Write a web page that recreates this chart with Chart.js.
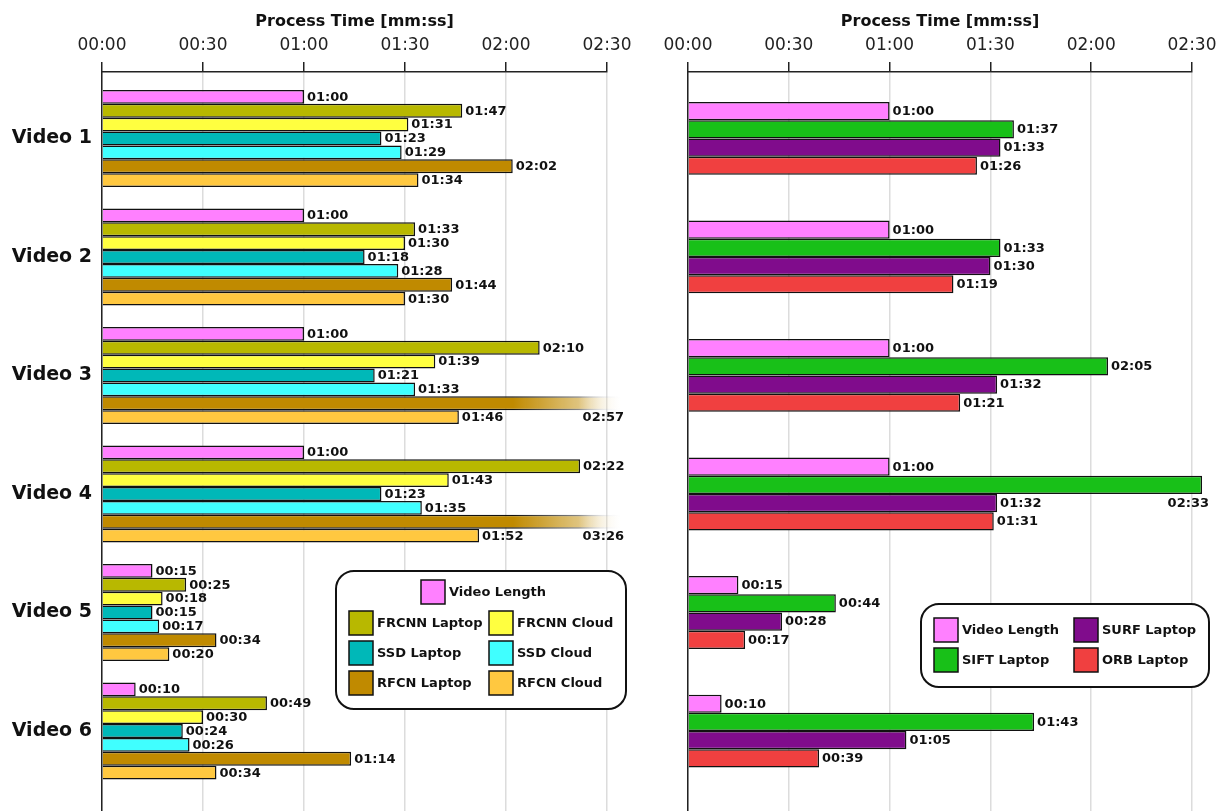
<!DOCTYPE html>
<html lang="en">
<head>
<meta charset="UTF-8">
<title>Process Time per Video</title>
<script src="https://cdn.jsdelivr.net/npm/chart.js"></script>
<style>
  body { margin: 0; background: #fff; }
  #wrap { position: relative; width: 1217px; height: 811px; }
  canvas { position: absolute; top: 0; }
</style>
</head>
<body>
<div id="wrap">
  <canvas id="detChart" width="640" height="811" style="left:0"></canvas>
  <canvas id="featChart" width="577" height="811" style="left:640px"></canvas>
</div>
<script>
const videos = ['Video 1', 'Video 2', 'Video 3', 'Video 4', 'Video 5', 'Video 6'];
const timeTicks = [0, 30, 60, 90, 120, 150];

// process times in seconds
const videoLength = [60, 60, 60, 60, 15, 10];
const frcnnLaptop = [107, 93, 130, 142, 25, 49];
const frcnnCloud = [91, 90, 99, 103, 18, 30];
const ssdLaptop = [83, 78, 81, 83, 15, 24];
const ssdCloud = [89, 88, 93, 95, 17, 26];
const rfcnLaptop = [122, 104, 177, 206, 34, 74];
const rfcnCloud = [94, 90, 106, 112, 20, 34];

const siftLaptop = [97, 93, 125, 153, 44, 103];
const surfLaptop = [93, 90, 92, 92, 28, 65];
const orbLaptop = [86, 79, 81, 91, 17, 39];

Chart.defaults.font.family = "'DejaVu Sans', sans-serif";

function mmss(s) {
  return String(Math.floor(s / 60)).padStart(2, '0') + ':' + String(s % 60).padStart(2, '0');
}

// bars that run far past the axis fade out (broken bar)
function fadeFor(ctx, color) {
  const chart = ctx.chart, x = chart.scales.x;
  if (ctx.type !== 'data' || !chart.chartArea || !x || ctx.raw.x <= x.max + 5) return color;
  const g = chart.ctx.createLinearGradient(x.getPixelForValue(122), 0, chart.chartArea.right + 16, 0);
  g.addColorStop(0, color);
  g.addColorStop(0.6, Chart.helpers.color(color).alpha(0.5).rgbString());
  g.addColorStop(1, 'rgba(255,255,255,0)');
  return g;
}

const valueLabels = {
  id: 'valueLabels',
  afterDatasetsDraw(chart) {
    const { ctx, chartArea } = chart;
    const xMax = chart.scales.x.max;
    ctx.save();
    ctx.font = 'bold 13px "DejaVu Sans"';
    ctx.fillStyle = '#111';
    ctx.textBaseline = 'middle';
    chart.data.datasets.forEach((ds, di) => {
      chart.getDatasetMeta(di).data.forEach((bar, i) => {
        const v = ds.data[i].x;
        if (v > xMax) {
          ctx.textAlign = 'right';
          ctx.fillText(mmss(v), chartArea.right + 17, bar.y + bar.height + 0.5);
        } else {
          ctx.textAlign = 'left';
          ctx.fillText(mmss(v), bar.x + 3, bar.y + 0.5);
        }
      });
    });
    ctx.restore();
  }
};

const barLegend = {
  id: 'barLegend',
  afterDraw(chart, args, opts) {
    const { ctx } = chart;
    const b = opts.box;
    ctx.save();
    ctx.beginPath();
    ctx.roundRect(b.left, b.top, b.width, b.height, 18);
    ctx.fillStyle = '#fff';
    ctx.fill();
    ctx.lineWidth = 2;
    ctx.strokeStyle = '#111';
    ctx.stroke();
    ctx.font = 'bold 13px "DejaVu Sans"';
    ctx.textBaseline = 'middle';
    ctx.textAlign = 'left';
    opts.items.forEach(([di, x, y]) => {
      const ds = chart.data.datasets[di];
      ctx.fillStyle = ds.swatch;
      ctx.fillRect(x, y - 12, 24, 24);
      ctx.lineWidth = 1.5;
      ctx.strokeRect(x, y - 12, 24, 24);
      ctx.fillStyle = '#111';
      ctx.fillText(ds.label, x + 28, y + 0.5);
    });
    ctx.restore();
  }
};

function makeChart(id, series, catPct, yWidth, padRight, showNames, legend) {
  return new Chart(document.getElementById(id), {
    type: 'bar',
    data: {
      datasets: series.map(s => ({
        label: s.label,
        swatch: s.color,
        data: s.data.map((v, i) => ({ x: v, y: i })),
        backgroundColor: ctx => fadeFor(ctx, s.color),
        borderColor: ctx => fadeFor(ctx, '#111'),
        borderWidth: 1.5,
        clip: false,
        categoryPercentage: catPct,
        barPercentage: 1
      }))
    },
    options: {
      indexAxis: 'y',
      responsive: false,
      animation: false,
      layout: { padding: { left: 0, right: padRight, top: 0, bottom: 0 } },
      plugins: {
        legend: { display: false },
        tooltip: { enabled: false },
        barLegend: legend
      },
      scales: {
        x: {
          type: 'linear',
          position: 'top',
          min: 0,
          max: 150,
          afterBuildTicks: s => { s.ticks = timeTicks.map(v => ({ value: v })); },
          afterFit: s => { s.height = 72; s.paddingLeft = 0; s.paddingRight = 0; },
          ticks: { callback: v => mmss(v), font: { size: 17 }, color: '#222', padding: 6, maxRotation: 0 },
          grid: { color: '#dcdcdc', lineWidth: 1.5, tickColor: '#222', tickWidth: 1.5, tickLength: 10 },
          border: { color: '#222', width: 1.5 },
          title: {
            display: true,
            text: 'Process Time [mm:ss]',
            font: { size: 16, weight: 'bold' },
            color: '#111',
            padding: { top: 12, bottom: 0 }
          }
        },
        y: {
          type: 'linear',
          reverse: true,
          offset: false,
          min: -0.561,
          max: 5.675,
          afterBuildTicks: s => { s.ticks = videos.map((v, i) => ({ value: i })); },
          afterFit: s => { s.width = yWidth; s.paddingTop = 0; s.paddingBottom = 0; },
          ticks: { display: showNames, callback: v => videos[v], font: { size: 19, weight: 'bold' }, color: '#111', padding: 10 },
          grid: { display: false, drawTicks: false },
          border: { color: '#222', width: 1.5 }
        }
      }
    },
    plugins: [valueLabels, barLegend]
  });
}

// Object detection methods
makeChart('detChart', [
  { label: 'Video Length', data: videoLength, color: '#ff80ff' },
  { label: 'FRCNN Laptop', data: frcnnLaptop, color: '#b8b800' },
  { label: 'FRCNN Cloud', data: frcnnCloud, color: '#ffff40' },
  { label: 'SSD Laptop', data: ssdLaptop, color: '#00b8b8' },
  { label: 'SSD Cloud', data: ssdCloud, color: '#40ffff' },
  { label: 'RFCN Laptop', data: rfcnLaptop, color: '#c08a00' },
  { label: 'RFCN Cloud', data: rfcnCloud, color: '#ffc840' }
], 0.82, 102, 33, true, {
  box: { left: 336, top: 571, width: 290, height: 138 },
  items: [[0, 421, 592], [1, 349, 623], [2, 489, 623], [3, 349, 653], [4, 489, 653], [5, 349, 683], [6, 489, 683]]
});

// Feature matching methods
makeChart('featChart', [
  { label: 'Video Length', data: videoLength, color: '#ff80ff' },
  { label: 'SIFT Laptop', data: siftLaptop, color: '#18c018' },
  { label: 'SURF Laptop', data: surfLaptop, color: '#800c8c' },
  { label: 'ORB Laptop', data: orbLaptop, color: '#f04040' }
], 0.614, 48, 25, false, {
  box: { left: 281, top: 604, width: 288, height: 83 },
  items: [[0, 294, 630], [1, 294, 660], [2, 434, 630], [3, 434, 660]]
});
</script>
</body>
</html>
